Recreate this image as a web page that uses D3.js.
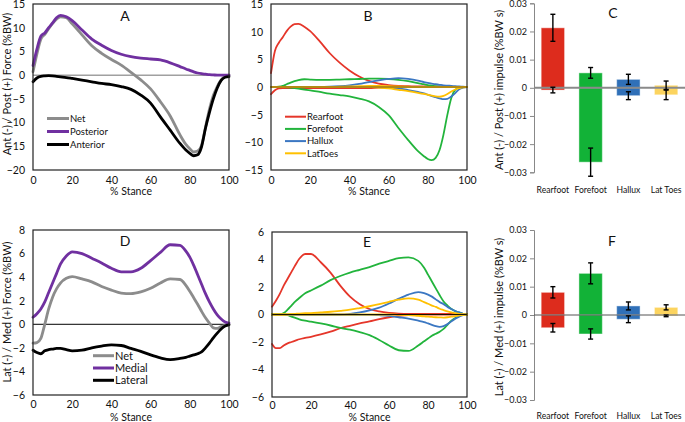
<!DOCTYPE html>
<html><head><meta charset="utf-8">
<script src="https://cdn.jsdelivr.net/npm/d3@7"></script>
<style>body{margin:0;background:#fff} svg{display:block} text{font-family:Lato,"Open Sans",sans-serif;fill:#111}</style>
</head><body><svg id="c" width="685" height="422"></svg>
<script>
// ---------- data ----------
const stance = [0,2,4,6,8,10,12,14,17,20,25,30,35,40,45,50,55,60,65,70,75,78,80,82,84,86,88,90,92,94,96,98,100];
const xTicks = [0,20,40,60,80,100];

// Panel A: anterior/posterior force (%BW)
const apNet       = [0.7,4.5,7.6,8.6,9.8,10.9,11.8,12.3,12.1,10.8,8.5,6.2,4.6,3.3,2.1,0.6,-1.0,-2.9,-5.6,-8.6,-12.6,-14.6,-15.5,-16.2,-16.0,-14.8,-11.0,-7.2,-4.3,-2.4,-1.0,-0.3,0];
const apPosterior = [2.0,5.5,8.2,8.9,10.0,11.0,12.1,12.6,12.3,11.5,9.5,7.6,6.3,5.2,4.4,3.9,3.6,3.4,3.2,2.6,1.8,1.3,1.0,0.7,0.45,0.3,0.2,0.1,0.05,0,0,0,0];
const apAnterior  = [-1.4,-0.6,-0.25,-0.15,-0.1,-0.15,-0.25,-0.35,-0.5,-0.7,-1.05,-1.4,-1.75,-2.0,-2.4,-3.0,-4.2,-5.9,-8.8,-11.6,-14.4,-15.8,-16.5,-17.0,-16.8,-15.1,-11.2,-7.9,-5.0,-2.7,-1.1,-0.45,-0.3];
const yTicksA = [-20,-15,-10,-5,0,5,10,15];

// Panel B: regional AP force (posterior + / anterior -)
const rearPosB = [2.5,6.5,8.0,9.0,10.1,10.9,11.35,11.4,10.9,10.1,8.2,6.1,4.4,3.0,1.9,1.1,0.6,0.35,0.2,0.15,0.1,0.1,0.1,0.1,0.08,0.07,0.06,0.05,0.04,0.03,0.02,0.01,0];
const rearNegB = [-1.3,-0.6,-0.25,-0.2,-0.2,-0.2,-0.2,-0.2,-0.2,-0.2,-0.2,-0.2,-0.2,-0.2,-0.2,-0.18,-0.1,-0.05,0,0,0,0,0,0,0,0,0,0,0,0,0,0,0];
const forePosB = [0,0,0.05,0.2,0.5,0.8,1.05,1.25,1.4,1.35,1.3,1.3,1.35,1.4,1.45,1.5,1.5,1.45,1.3,1.05,0.7,0.5,0.35,0.25,0.15,0.1,0.05,0,0,0,0,0,0];
const foreNegB = [0,0,0,0,-0.05,-0.1,-0.2,-0.3,-0.45,-0.6,-0.9,-1.2,-1.45,-1.7,-2.1,-2.6,-3.6,-5.1,-7.4,-9.6,-11.6,-12.5,-13.0,-13.2,-12.8,-11.4,-8.6,-5.0,-2.0,-0.5,-0.1,0,0];
const halPosB  = [0,0,0,0,0,0,0,0,0,0,0,0.05,0.15,0.3,0.55,0.9,1.2,1.45,1.6,1.45,1.15,0.9,0.75,0.6,0.5,0.4,0.3,0.25,0.2,0.15,0.1,0.05,0];
const halNegB  = [0,0,0,0,0,0,0,0,0,0,0,0,0,0,0,0,-0.02,-0.1,-0.25,-0.55,-0.9,-1.15,-1.4,-1.65,-1.85,-2.05,-2.2,-2.15,-1.7,-1.1,-0.4,-0.1,0];
const latPosB  = [0,0,0,0,0,0,0,0,0,0,0,0,0.05,0.1,0.15,0.2,0.2,0.15,0.1,0.05,0,0,0,0,0,0,0,0,0,0,0,0,0];
const latNegB  = [0,0,0,0,0,0,0,0,0,0,0,0,0,0,0,0,-0.1,-0.25,-0.5,-0.75,-1.05,-1.25,-1.4,-1.55,-1.7,-1.75,-1.6,-1.25,-0.8,-0.45,-0.2,-0.05,0];
const yTicksB = [-15,-10,-5,0,5,10,15];

// Panel D: medial/lateral force (%BW)
const mlNet     = [-1.6,-1.55,-1.2,0.0,1.3,2.3,3.0,3.5,3.9,4.05,3.85,3.6,3.2,2.9,2.65,2.6,2.75,3.05,3.5,3.85,3.8,3.3,2.8,2.25,1.7,1.1,0.55,0.1,-0.3,-0.35,-0.2,-0.1,0];
const mlMedial  = [0.6,0.9,1.3,1.9,2.7,3.5,4.3,5.1,5.8,6.15,6.0,5.6,5.2,4.75,4.45,4.45,4.75,5.4,6.1,6.75,6.7,6.2,5.7,5.0,4.2,3.4,2.6,1.9,1.3,0.8,0.45,0.2,0.1];
const mlLateral = [-2.2,-2.4,-2.5,-2.25,-2.15,-2.1,-2.05,-2.05,-2.15,-2.25,-2.2,-2.0,-1.85,-1.75,-1.8,-2.05,-2.3,-2.6,-2.85,-3.0,-2.9,-2.8,-2.7,-2.6,-2.5,-2.35,-2.0,-1.6,-1.15,-0.75,-0.4,-0.15,-0.05];
const yTicksD = [-6,-4,-2,0,2,4,6,8];

// Panel E: regional ML force (medial + / lateral -)
const rearPosE = [0.57,1.0,1.5,2.1,2.6,3.1,3.6,4.05,4.4,4.4,3.8,3.05,2.1,1.3,0.75,0.4,0.22,0.12,0.07,0.05,0.05,0.05,0.05,0.05,0.05,0.05,0.05,0.05,0.04,0.03,0.02,0.01,0];
const rearNegE = [-2.15,-2.45,-2.45,-2.25,-2.1,-2.0,-1.9,-1.8,-1.7,-1.62,-1.45,-1.25,-1.0,-0.82,-0.65,-0.5,-0.33,-0.2,-0.1,-0.05,0,0,0,0,0,0,0,0,0,0,0,0,0];
const forePosE = [0,0,0,0.1,0.35,0.65,0.95,1.2,1.55,1.75,2.1,2.5,2.8,3.05,3.25,3.45,3.7,3.9,4.1,4.15,3.9,3.4,2.9,2.4,1.9,1.4,0.95,0.65,0.4,0.25,0.15,0.05,0];
const foreNegE = [0,0,0,0,-0.05,-0.15,-0.25,-0.35,-0.45,-0.52,-0.65,-0.8,-0.98,-1.1,-1.28,-1.5,-1.85,-2.25,-2.6,-2.65,-2.25,-1.95,-1.75,-1.55,-1.4,-1.25,-1.05,-0.75,-0.45,-0.25,-0.1,-0.03,0];
const halPosE  = [0,0,0,0,0,0,0,0,0,0,0,0,0,0.05,0.15,0.3,0.5,0.8,1.15,1.45,1.63,1.55,1.45,1.3,1.1,0.9,0.75,0.55,0.4,0.25,0.15,0.05,0];
const halNegE  = [-0.02,-0.02,-0.02,-0.02,-0.02,-0.02,-0.02,-0.02,-0.02,-0.02,-0.02,-0.02,-0.02,-0.02,-0.02,-0.02,-0.05,-0.1,-0.2,-0.3,-0.45,-0.55,-0.65,-0.75,-0.85,-0.9,-0.85,-0.7,-0.5,-0.3,-0.15,-0.05,0];
const latPosE  = [0,0,0,0,0.01,0.03,0.05,0.07,0.09,0.1,0.15,0.2,0.27,0.35,0.47,0.6,0.75,0.92,1.08,1.18,1.08,0.9,0.78,0.65,0.55,0.42,0.32,0.22,0.15,0.1,0.05,0.02,0];
const latNegE  = [0,0,0,0,0,0,0,0,0,0,0,0,0,0,0,0,0,0,-0.02,-0.05,-0.1,-0.13,-0.16,-0.18,-0.2,-0.21,-0.22,-0.2,-0.16,-0.12,-0.07,-0.03,0];
const yTicksE = [-6,-4,-2,0,2,4,6];

// Panels C & F: impulses (%BW s)
const regions = ["Rearfoot","Forefoot","Hallux","Lat Toes"];
const apImpPos    = [0.0213,0.0053,0.0030,0.0009];
const apImpPosErr = [0.0048,0.0019,0.0018,0.0015];
const apImpNeg    = [-0.0008,-0.0264,-0.0028,-0.0025];
const apImpNegErr = [0.0010,0.0050,0.0014,0.0017];
const mlImpPos    = [0.0080,0.0147,0.0032,0.0027];
const mlImpPosErr = [0.0020,0.0037,0.0014,0.0009];
const mlImpNeg    = [-0.0045,-0.0067,-0.0015,-0.0003];
const mlImpNegErr = [0.0015,0.0018,0.0012,0.0003];
const yTicksImp = [-0.03,-0.02,-0.01,0,0.01,0.02,0.03];

// ---------- drawing ----------
const svg = d3.select("#c");
const FONT = 'Lato,"Open Sans",sans-serif';
const C = {gray:"#8c8c8c", purple:"#7030a0", black:"#000",
  red:"#e5362a", green:"#22b43c", blue:"#3b77c2", yellow:"#ffc000"};
const barCol = ["#dd2c1d","#12b237","#3070b8","#fcd45f"];

function linePanel(o){
  const x = d3.scaleLinear().domain([0,100]).range([o.l,o.r]);
  const y = d3.scaleLinear().domain(o.yd).range([o.b,o.t]);
  const g = svg.append("g");
  const ya = g.append("g").attr("transform",`translate(${o.l},0)`)
    .call(d3.axisLeft(y).tickValues(o.yt).tickSize(0).tickPadding(8).tickFormat(d3.format("d")));
  ya.select(".domain").remove();
  ya.selectAll("text").style("font-family",FONT).style("font-size","10.5px").attr("fill","#111");
  const xa = g.append("g").attr("transform",`translate(0,${o.b})`)
    .call(d3.axisBottom(x).tickValues(xTicks).tickSize(0).tickPadding(o.xpad));
  xa.select(".domain").remove();
  xa.selectAll("text").style("font-family",FONT).style("font-size","10.5px").attr("fill","#111");
  g.append("text").attr("x",(o.l+o.r)/2).attr("y",o.xtitleY).attr("text-anchor","middle")
    .style("font-size","10.5px").text("% Stance");
  if(o.ytitle){
    g.append("text").attr("transform",`translate(${o.ytx},${o.yty}) rotate(-90)`)
      .attr("text-anchor","middle").style("font-size","11px").text(o.ytitle);
  }
  if(o.zeroUnder) g.append("line").attr("x1",o.l).attr("x2",o.r).attr("y1",y(0)).attr("y2",y(0))
      .attr("stroke",o.zeroUnder.c).attr("stroke-width",o.zeroUnder.w);
  const line = d3.line().x((d,i)=>x(stance[i])).y(d=>y(d)).curve(d3.curveMonotoneX);
  o.series.forEach(s=>{
    g.append("path").attr("d",line(s.v)).attr("fill","none").attr("stroke",s.c)
      .attr("stroke-width",s.w).attr("stroke-linejoin","round").attr("stroke-linecap","round");
  });
  if(o.zeroOver) g.append("line").attr("x1",o.l).attr("x2",o.r).attr("y1",y(0)).attr("y2",y(0))
      .attr("stroke",o.zeroOver.c).attr("stroke-width",o.zeroOver.w);
  g.append("rect").attr("x",o.l).attr("y",o.t).attr("width",o.r-o.l).attr("height",o.b-o.t)
    .attr("fill","none").attr("stroke","#222").attr("stroke-width",1.2);
  g.append("text").attr("x",o.letter[0]).attr("y",o.letter[1]).attr("text-anchor","middle")
    .style("font-size","14px").text(o.letterT);
  if(o.legend){
    o.legend.items.forEach((it,i)=>{
      const yy = o.legend.y0 + i*o.legend.dy;
      g.append("line").attr("x1",o.legend.x0).attr("x2",o.legend.x1).attr("y1",yy).attr("y2",yy)
        .attr("stroke",it.c).attr("stroke-width",it.w);
      g.append("text").attr("x",o.legend.x1+1).attr("y",yy).attr("dy","0.35em")
        .style("font-size",o.legend.fs+"px").text(it.n);
    });
  }
}

linePanel({l:33,r:229,t:4,b:170,yd:[-20,15],yt:yTicksA,xpad:7,xtitleY:195,
  ytitle:"Ant (-) / Post (+) Force (%BW)",ytx:11,yty:84,
  zeroUnder:{c:"#a0a0a0",w:1.5},
  series:[{v:apNet,c:C.gray,w:2.8},{v:apPosterior,c:C.purple,w:2.8},{v:apAnterior,c:C.black,w:2.8}],
  letter:[125,21],letterT:"A",
  legend:{x0:47,x1:69,y0:118.5,dy:13,fs:9.5,items:[{n:"Net",c:C.gray,w:3},{n:"Posterior",c:C.purple,w:3},{n:"Anterior",c:C.black,w:3}]}});

linePanel({l:271,r:467,t:4,b:170,yd:[-15,15],yt:yTicksB,xpad:7,xtitleY:195,
  series:[{v:rearNegB,c:C.red,w:1.8},{v:rearPosB,c:C.red,w:1.8},
          {v:forePosB,c:C.green,w:1.8},{v:foreNegB,c:C.green,w:1.8},
          {v:halPosB,c:C.blue,w:1.8},{v:halNegB,c:C.blue,w:1.8},
          {v:latPosB,c:C.yellow,w:1.8},{v:latNegB,c:C.yellow,w:1.8}],
  zeroOver:{c:"#b28a14",w:2.2},
  letter:[368,21],letterT:"B",
  legend:{x0:285,x1:306,y0:116.7,dy:12.2,fs:9.5,items:[{n:"Rearfoot",c:C.red,w:2},{n:"Forefoot",c:C.green,w:2},{n:"Hallux",c:C.blue,w:2},{n:"LatToes",c:C.yellow,w:2}]}});

linePanel({l:33,r:229,t:230,b:395,yd:[-6,8],yt:yTicksD,xpad:6,xtitleY:421,
  ytitle:"Lat (-) / Med (+) Force (%BW)",ytx:11,yty:312,
  zeroUnder:{c:"#000",w:1},
  series:[{v:mlNet,c:C.gray,w:2.8},{v:mlMedial,c:C.purple,w:2.8},{v:mlLateral,c:C.black,w:2.8}],
  letter:[125,246],letterT:"D",
  legend:{x0:93,x1:114,y0:355.7,dy:12.3,fs:11,items:[{n:"Net",c:C.gray,w:3},{n:"Medial",c:C.purple,w:3},{n:"Lateral",c:C.black,w:3}]}});

linePanel({l:272,r:467,t:232,b:397,yd:[-6,6],yt:yTicksE,xpad:5,xtitleY:421,
  series:[{v:rearPosE,c:C.red,w:1.8},{v:rearNegE,c:C.red,w:1.8},
          {v:forePosE,c:C.green,w:1.8},{v:foreNegE,c:C.green,w:1.8},
          {v:halPosE,c:C.blue,w:1.8},{v:halNegE,c:C.blue,w:1.8},
          {v:latPosE,c:C.yellow,w:1.8},{v:latNegE,c:C.yellow,w:1.8}],
  zeroOver:{c:"#1a1400",w:1.2},
  letter:[367,247],letterT:"E"});

function barPanel(o){
  const x = d3.scaleBand().domain(regions).range([o.l,o.r]).paddingInner(0.38).paddingOuter(0.19);
  const y = d3.scaleLinear().domain([-0.03,0.03]).range([o.b,o.t]);
  const g = svg.append("g");
  const ya = g.append("g").attr("transform",`translate(${o.l},0)`)
    .call(d3.axisLeft(y).tickValues(yTicksImp).tickSize(4).tickPadding(3).tickFormat(d=>d===0?"0":d3.format(".2f")(d)));
  ya.select(".domain").attr("stroke","#888");
  ya.selectAll(".tick line").attr("stroke","#888");
  ya.selectAll("text").style("font-family",FONT).style("font-size","9px").attr("fill","#111");
  g.append("text").attr("transform",`translate(${o.ytx},${o.yty}) rotate(-90)`)
    .attr("text-anchor","middle").style("font-size","11px").text(o.ytitle);
  regions.forEach((r,i)=>{
    const bw = x.bandwidth(), bx = x(r);
    [[o.pos[i],o.posE[i]],[o.neg[i],o.negE[i]]].forEach(([v,e])=>{
      g.append("rect").attr("x",bx).attr("width",bw)
        .attr("y",Math.min(y(v),y(0))).attr("height",Math.abs(y(v)-y(0)))
        .attr("fill",barCol[i]).attr("stroke","rgba(255,255,255,0.45)").attr("stroke-width",1);
    });
  });
  g.append("line").attr("x1",o.l).attr("x2",o.r).attr("y1",y(0)).attr("y2",y(0))
    .attr("stroke",o.zc).attr("stroke-width",o.zw);
  regions.forEach((r,i)=>{
    const cx = x(r)+x.bandwidth()/2;
    [[o.pos[i],o.posE[i]],[o.neg[i],o.negE[i]]].forEach(([v,e])=>{
      const y1=y(v+e), y2=y(v-e);
      g.append("line").attr("x1",cx).attr("x2",cx).attr("y1",y1).attr("y2",y2).attr("stroke","#000").attr("stroke-width",1.4);
      [y1,y2].forEach(yy=>g.append("line").attr("x1",cx-2.5).attr("x2",cx+2.5).attr("y1",yy).attr("y2",yy).attr("stroke","#000").attr("stroke-width",1.4));
    });
    g.append("text").attr("x",cx).attr("y",o.catY).attr("text-anchor","middle").style("font-size","8.6px").text(r);
  });
  g.append("text").attr("x",o.letter[0]).attr("y",o.letter[1]).attr("text-anchor","middle")
    .style("font-size","14px").text(o.letterT);
}

barPanel({l:534,r:685,t:3.3,b:172.3,pos:apImpPos,posE:apImpPosErr,neg:apImpNeg,negE:apImpNegErr,
  ytitle:"Ant (-) / Post (+) impulse (%BW s)",ytx:503,yty:90,zc:"#8a8a8a",zw:2,catY:193,
  letter:[613,18],letterT:"C"});
barPanel({l:534,r:685,t:230,b:400,pos:mlImpPos,posE:mlImpPosErr,neg:mlImpNeg,negE:mlImpNegErr,
  ytitle:"Lat (-) / Med (+) impulse (%BW s)",ytx:503,yty:317,zc:"#555",zw:1,catY:419,
  letter:[612,246],letterT:"F"});
</script></body></html>
